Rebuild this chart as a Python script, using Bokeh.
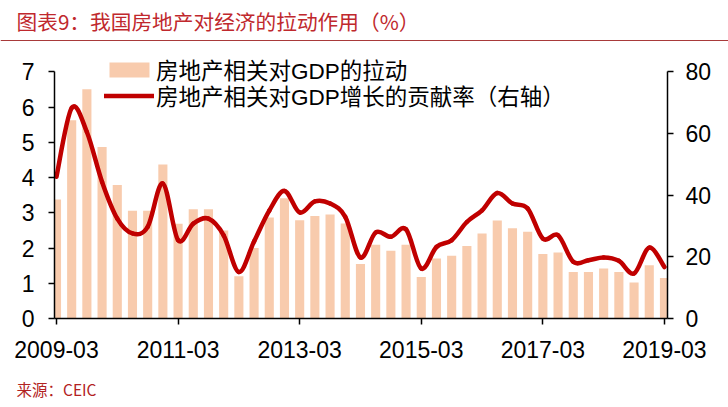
import numpy as np
from bokeh.plotting import figure
from bokeh.layouts import column
from bokeh.models import (Range1d, LinearAxis, FixedTicker, Legend, LegendItem,
                          Label, Span, ColumnDataSource)
from bokeh.embed import file_html
from bokeh.resources import INLINE

# ---------------- data ----------------
quarters = [f"{y}-{m:02d}" for y in range(2009, 2020) for m in (3, 6, 9, 12)][:41]

# 房地产相关对GDP的拉动 (left axis, %)
pull = [3.38, 5.63, 6.51, 4.87, 3.79, 3.06, 3.06, 4.37, 2.69, 3.10,
        3.10, 2.50, 1.20, 2.00, 2.87, 3.41, 2.79, 2.91, 2.95, 2.70,
        1.55, 2.09, 1.92, 2.09, 1.18, 1.70, 1.78, 2.06, 2.41, 2.78,
        2.56, 2.46, 1.83, 1.87, 1.32, 1.32, 1.42, 1.32, 1.02, 1.51,
        1.15]

# 房地产相关对GDP增长的贡献率 (right axis, %)
contrib = [46.0, 68.3, 60.5, 44.3, 32.4, 27.6, 29.7, 43.8, 25.4, 30.8,
           32.4, 27.0, 15.1, 25.0, 35.0, 41.4, 34.4, 38.0, 37.3, 33.0,
           19.8, 27.9, 26.5, 28.9, 16.2, 23.2, 25.4, 31.3, 35.1, 40.7,
           37.3, 35.7, 25.9, 27.0, 18.4, 18.9, 19.8, 18.7, 14.6, 23.0,
           16.7]

x_tick_labels = ["2009-03", "2011-03", "2013-03", "2015-03", "2017-03", "2019-03"]
left_ticks = [0, 1, 2, 3, 4, 5, 6, 7]
right_ticks = [0, 20, 40, 60, 80]

title_text = "图表9：我国房地产对经济的拉动作用（%）"
source_text = "来源：CEIC"
bar_label = "房地产相关对GDP的拉动"
line_label = "房地产相关对GDP增长的贡献率（右轴）"

# ---------------- styles ----------------
BAR_COLOR = "#F8CBAD"
LINE_COLOR = "#C00000"
TITLE_COLOR = "#C0282D"
RULE_COLOR = "#A83A3A"
LATIN_CJK = "'Liberation Sans', 'Noto Sans CJK SC'"
CJK = "'Noto Sans CJK SC'"
W = 728
H_HEAD, H_MAIN, H_FOOT = 48, 322, 37

# ---------------- header ----------------
head = figure(width=W, height=H_HEAD, output_backend="svg", toolbar_location=None,
              x_range=Range1d(0, W), y_range=Range1d(H_HEAD, 0),
              x_axis_location=None, y_axis_location=None, min_border=0)
head.frame_align = False
head.outline_line_color = None
head.grid.visible = False
head.add_layout(Label(x=16, y=20.5, text=title_text, text_font=CJK,
                      text_font_size="20.7px", text_color=TITLE_COLOR,
                      text_baseline="middle"))
head.add_layout(Span(location=40, dimension="width", line_color=RULE_COLOR,
                     line_width=1))

# ---------------- main chart ----------------
x = list(range(len(quarters)))
LEFT_MAX, RIGHT_MAX = 7, 80
top_room = 7.664  # frame extends a little above the axis top for the legend

p = figure(width=W, height=H_MAIN, output_backend="svg", toolbar_location=None,
           x_range=Range1d(-0.13, 40.2), y_range=Range1d(0, top_room),
           min_border_left=54, min_border_right=61, min_border_top=0,
           min_border_bottom=52)
p.frame_align = False
p.extra_y_ranges = {"right": Range1d(0, RIGHT_MAX * top_room / LEFT_MAX)}
p.outline_line_color = None
p.xgrid.visible = False
p.ygrid.visible = False

bars = p.vbar(x=x, top=pull, width=0.6, fill_color=BAR_COLOR, line_color=None)

# smooth curve through the data points (Catmull-Rom drawn as cubic Beziers)
xs = np.array(x, dtype=float)
ys = np.array(contrib, dtype=float)
xp = np.concatenate([[xs[0]], xs, [xs[-1]]])
yp = np.concatenate([[ys[0]], ys, [ys[-1]]])
seg = dict(x0=[], y0=[], x1=[], y1=[], cx0=[], cy0=[], cx1=[], cy1=[])
for i in range(len(xs) - 1):
    p0x, p1x, p2x, p3x = xp[i], xp[i + 1], xp[i + 2], xp[i + 3]
    p0y, p1y, p2y, p3y = yp[i], yp[i + 1], yp[i + 2], yp[i + 3]
    seg["x0"].append(p1x); seg["y0"].append(p1y)
    seg["x1"].append(p2x); seg["y1"].append(p2y)
    seg["cx0"].append(p1x + (p2x - p0x) / 6); seg["cy0"].append(p1y + (p2y - p0y) / 6)
    seg["cx1"].append(p2x - (p3x - p1x) / 6); seg["cy1"].append(p2y - (p3y - p1y) / 6)
curve = p.bezier(x0="x0", y0="y0", x1="x1", y1="y1", cx0="cx0", cy0="cy0",
                 cx1="cx1", cy1="cy1", source=ColumnDataSource(seg),
                 line_color=LINE_COLOR, line_width=4.5, line_cap="round",
                 y_range_name="right")

def style_axis(ax, standoff):
    ax.axis_line_color = "black"
    ax.axis_line_width = 1.5
    ax.major_tick_line_color = "black"
    ax.major_tick_line_width = 1.5
    ax.major_tick_out = 6
    ax.major_tick_in = 0
    ax.minor_tick_line_color = None
    ax.major_label_text_font = "'Liberation Sans'"
    ax.major_label_text_font_size = "23px"
    ax.major_label_text_color = "black"
    ax.major_label_standoff = standoff

yl = p.yaxis[0]
yl.ticker = FixedTicker(ticks=left_ticks)
yl.bounds = (0, LEFT_MAX)
style_axis(yl, 14)

yr = LinearAxis(y_range_name="right", ticker=FixedTicker(ticks=right_ticks),
                bounds=(0, RIGHT_MAX))
style_axis(yr, 12)
p.add_layout(yr, "right")

xa = p.xaxis[0]
xa.ticker = FixedTicker(ticks=[quarters.index(t) for t in x_tick_labels])
xa.major_label_overrides = {quarters.index(t): t for t in x_tick_labels}
style_axis(xa, 16)

legend_style = dict(orientation="vertical", border_line_color=None,
                    background_fill_alpha=0, padding=0, margin=0, spacing=0,
                    glyph_width=50, glyph_height=19, label_standoff=2,
                    label_text_font=LATIN_CJK, label_text_font_size="22.5px",
                    label_text_color="black", label_height=22)
legend_bar = Legend(items=[LegendItem(label=bar_label, renderers=[bars])],
                    location=(50, 233), **legend_style)
legend_line = Legend(items=[LegendItem(label=line_label, renderers=[curve])],
                     location=(50, 207), **legend_style)
p.add_layout(legend_bar)
p.add_layout(legend_line)

# ---------------- footer ----------------
foot = figure(width=W, height=H_FOOT, output_backend="svg", toolbar_location=None,
              x_range=Range1d(0, W), y_range=Range1d(H_FOOT, 0),
              x_axis_location=None, y_axis_location=None, min_border=0)
foot.frame_align = False
foot.outline_line_color = None
foot.grid.visible = False
foot.add_layout(Label(x=16, y=18, text=source_text, text_font=CJK,
                      text_font_size="15.5px", text_color="#B22222",
                      text_baseline="middle"))

layout = column(head, p, foot, spacing=0)
open("out.html", "w").write(file_html(layout, INLINE))
